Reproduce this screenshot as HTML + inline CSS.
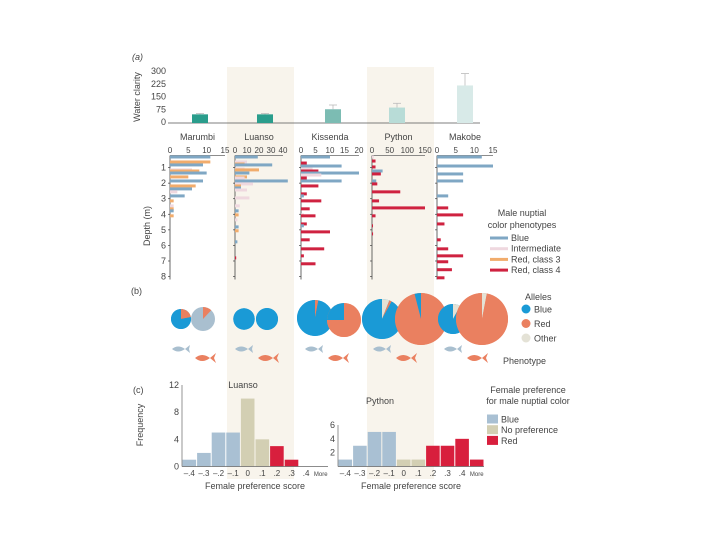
<!DOCTYPE html>
<html><head><meta charset="utf-8"><style>
html,body{margin:0;padding:0;background:#fff}
svg{display:block}
text{font-family:"Liberation Sans",sans-serif;fill:#444}
</style></head><body>
<svg id="fig" width="720" height="540" viewBox="0 0 720 540"></svg>
<script>
// ---- data ----
const sites = ["Marumbi","Luanso","Kissenda","Python","Makobe"];
const clarityValues = [45, 45, 75, 85, 215];
const clarityErr = [50, 50, 100, 110, 285];
const clarityTicks = [0,75,150,225,300];
const depthTicks = [1,2,3,4,5,6,7,8];
const depthMax = [15,40,20,150,15];
const depthAxisTicks = [[0,5,10,15],[0,10,20,30,40],[0,5,10,15,20],[0,50,100,150],[0,5,10,15]];
// [depth (m), count, phenotype]
const marumbiBars = [[0.32,11,"B"],[0.64,11,"O"],[0.83,9,"B"],[1.15,6,"I"],[1.22,8,"O"],[1.35,10,"B"],[1.6,5,"O"],[1.86,9,"B"],[2.18,7,"O"],[2.37,6,"B"],[2.56,2,"I"],[2.82,4,"B"],[3.14,1,"O"],[3.46,1,"I"],[3.65,1,"O"],[3.78,1,"B"],[4.1,1,"O"]];
const luansoBars = [[0.32,19,"B"],[0.64,10,"I"],[0.77,8,"O"],[0.83,31,"B"],[1.09,8,"I"],[1.15,20,"O"],[1.35,12,"B"],[1.6,10,"O"],[1.67,8,"I"],[1.86,44,"B"],[2.05,15,"I"],[2.18,5,"O"],[2.31,5,"B"],[2.44,10,"I"],[2.95,12,"I"],[3.46,4,"I"],[3.78,3,"B"],[4.04,3,"O"],[4.36,2,"I"],[4.81,3,"B"],[5.06,3,"O"],[5.77,2,"B"],[6.8,1,"R"]];
const kissendaBars = [[0.32,10,"B"],[0.71,2,"R"],[0.9,14,"B"],[1.09,4,"I"],[1.22,6,"R"],[1.35,20,"B"],[1.48,7,"I"],[1.67,2,"R"],[1.86,14,"B"],[2.18,6,"R"],[2.69,2,"R"],[2.82,1,"B"],[3.14,7,"R"],[3.65,3,"R"],[4.04,1,"I"],[4.1,5,"R"],[4.62,2,"R"],[4.74,1,"B"],[5.13,10,"R"],[5.64,3,"R"],[6.22,8,"R"],[6.67,1,"R"],[7.18,5,"R"]];
const pythonBars = [[0.32,5,"I"],[0.58,10,"R"],[0.96,10,"R"],[1.22,30,"B"],[1.41,25,"R"],[1.86,12,"B"],[2.05,15,"R"],[2.56,80,"R"],[3.14,20,"R"],[3.59,150,"R"],[4.1,10,"R"],[4.74,2,"R"],[5.26,3,"R"]];
const makobeBars = [[0.32,12,"B"],[0.9,15,"B"],[1.41,7,"B"],[1.86,7,"B"],[2.82,3,"B"],[3.59,3,"R"],[4.04,7,"R"],[4.62,2,"R"],[5.64,1,"R"],[6.22,3,"R"],[6.67,7,"R"],[7.05,3,"R"],[7.56,4,"R"],[8.08,2,"R"]];
// allele fractions [blue, red, other]
const allelePie1 = [[0.78,0.22,0],[1,0,0],[0.97,0.03,0],[0.92,0.02,0.06],[0.92,0,0.08]];
const allelePie2 = [[0,0.12,0],[1,0,0],[0.25,0.75,0],[0.04,0.96,0],[0,0.97,0.03]];
const histBins = ["\u2013.4","\u2013.3","\u2013.2","\u2013.1","0",".1",".2",".3",".4","More"];
const histClass = ["B","B","B","B","N","N","R","R","R","R"];
const luansoHist = [1,2,5,5,10,4,3,1,0,0];
const pythonHist = [1,3,5,5,1,1,3,3,4,1];
const luansoTicks = [0,4,8,12];
const pythonTicks = [2,4,6];

const S = document.getElementById('fig');
const NS = "http://www.w3.org/2000/svg";
function mk(tag, at, parent){const e=document.createElementNS(NS,tag);for(const k in at)e.setAttribute(k,at[k]);(parent||S).appendChild(e);return e;}
function tx(x,y,s,size,anchor,extra){const e=mk('text',Object.assign({x:x,y:y,'font-size':size,'text-anchor':anchor||'start'},extra||{}));e.textContent=s;return e;}
const colX = [170,235,301,372,437];
const colW = [55,48,58,53,56];
const phCol = {B:"#7fa7c4",I:"#efd8df",O:"#f1ac6c",R:"#cf2240"};
const hCol = {B:"#a9c0d3",N:"#d3cfb3",R:"#d81f3d"};

// shading
[[227,67],[367,67]].forEach((p,i)=>{const r=mk('rect',{x:p[0],y:p[1],width:67,height:412,fill:"#f8f4ec"});

});

// ---- (a) water clarity ----
let t=tx(132,60,"(a)",9,'start',{'font-style':'italic'});


const cy0=122, cy300=71;
function cY(v){return cy0-(cy0-cy300)*v/300;}
clarityTicks.forEach(v=>{const e=tx(166,cY(v)+3,String(v),9,'end');

});
t=tx(140,97,"Water clarity",9,'middle',{transform:"rotate(-90 140 97)"});


let ax=mk('line',{x1:168,y1:123,x2:480,y2:123,stroke:"#555","stroke-width":0.8});


const clarCols=["#2a9d8c","#2a9d8c","#7cbcb3","#b8dcd7","#d8eae8"];
const clarCx=[200,265,333,397,465];
sites.forEach((s,i)=>{
 const e=mk('line',{x1:clarCx[i],x2:clarCx[i],y1:cY(clarityErr[i]),y2:cY(clarityValues[i]),stroke:"#bbb","stroke-width":0.8});
 
 
 const c=mk('line',{x1:clarCx[i]-4,x2:clarCx[i]+4,y1:cY(clarityErr[i]),y2:cY(clarityErr[i]),stroke:"#bbb","stroke-width":0.8});
 
 
 const b=mk('rect',{x:clarCx[i]-8,y:cY(clarityValues[i]),width:16,height:cy0-cY(clarityValues[i])+1,fill:clarCols[i]});
 
 
 const l=tx(colX[i]+colW[i]/2,140,s,9,'middle');
 
 
});

// ---- depth profiles ----
function dY(d){return 152+15.57*d;}
depthTicks.forEach(d=>{const e=tx(166,dY(d)+3,String(d),9,'end');

});
t=tx(150,226,"Depth (m)",9,'middle',{transform:"rotate(-90 150 226)"});


const allBars=[marumbiBars,luansoBars,kissendaBars,pythonBars,makobeBars];
allBars.forEach((bars,i)=>{
 const x0=colX[i], w=colW[i], mx=depthMax[i];
 const sx=v=>x0+w*v/mx;
 depthAxisTicks[i].forEach(v=>{const e=tx(sx(v),153,String(v),8,'middle');
 
 });
 const top=mk('line',{x1:x0,x2:x0+w,y1:155.5,y2:155.5,stroke:"#666","stroke-width":0.7});
 
 
 const lft=mk('line',{x1:x0,x2:x0,y1:155.5,y2:dY(8)+3,stroke:"#444","stroke-width":0.8});
 
 
 depthTicks.forEach(d=>{const k=mk('line',{x1:x0-2,x2:x0,y1:dY(d),y2:dY(d),stroke:"#444","stroke-width":0.7});
 
 });
 bars.forEach(b=>{const r=mk('rect',{x:x0,y:dY(b[0])-1.5,width:Math.max(w*b[1]/mx,1),height:3,fill:phCol[b[2]]});
 
 });
});
// legend a
t=tx(522,216,"Male nuptial",9,'middle');


t=tx(522,228,"color phenotypes",9,'middle');


[["Blue","B"],["Intermediate","I"],["Red, class 3","O"],["Red, class 4","R"]].forEach((e,k)=>{
 const y=238+k*10.7;
 const l=mk('rect',{x:490,y:y-1.5,width:18,height:3,fill:phCol[e[1]]});
 
 
 const tt=tx(511,y+3,e[0],9);
 
 
});

// ---- (b) pies ----
t=tx(131,294,"(b)",9);


const pc1=[[181,319,10],[244,319,10.7],[315,318,18],[382,319,20],[453,319,15]];
const pc2=[[203,319,12],[267,319,11],[344,320,17],[421,319,26],[482,319,26]];
const aCol=["#1a9ad6","#ea8060","#e4e2d6"];
function pie(c,fr,base,name){
 let a=0;
 const g=mk('g',{});
 
 
 const bg=mk('circle',{cx:c[0],cy:c[1],r:c[2],fill:base},g);
 // other, red wedges drawn clockwise from 12 o'clock; blue fills rest counter
 const order=[[2,fr[2]],[1,fr[1]],[0,fr[0]]];
 order.forEach(o=>{const f=o[1]; if(f<=0)return;
  if(f>=0.999){mk('circle',{cx:c[0],cy:c[1],r:c[2],fill:aCol[o[0]]},g);a+=f;return;}
  const a0=a*2*Math.PI, a1=(a+f)*2*Math.PI;
  const p=(an)=>[c[0]+c[2]*Math.sin(an),c[1]-c[2]*Math.cos(an)];
  const s=p(a0),e=p(a1);
  mk('path',{d:`M${c[0]},${c[1]}L${s[0]},${s[1]}A${c[2]},${c[2]} 0 ${f>0.5?1:0} 1 ${e[0]},${e[1]}Z`,fill:aCol[o[0]]},g);
  a+=f;});
}
sites.forEach((s,i)=>{
 const f1=allelePie1[i];
 pie(pc1[i],f1,"#1a9ad6",'allele-pie-'+s.toLowerCase()+'-1');
 const f2=allelePie2[i];
 pie(pc2[i],f2,i==0?"#a9bfcf":(f2[1]>0.5?"#ea8060":"#1a9ad6"),'allele-pie-'+s.toLowerCase()+'-2');
 // fish
 const fx=[180,243,313,381,452][i];
 const f=mk('path',{d:`M${fx-8},349 q6,-5 13,0 l5,-4 l-1,4 l1,4 l-5,-4 q-7,5 -13,0z`,fill:"#a9bfcf"});
 
 
 const fx2=fx+25;
 const f3=mk('path',{d:`M${fx2-10},358 q7,-6 15,0 l6,-5 l-2,5 l2,5 l-6,-5 q-8,6 -15,0z`,fill:"#ea8060"});
 
 
});
t=tx(525,300,"Alleles",9);


[["Blue",0],["Red",1],["Other",2]].forEach((e,k)=>{
 const y=309+k*14.5;
 const c=mk('circle',{cx:526,cy:y,r:4.5,fill:aCol[e[1]]});
 
 
 const tt=tx(534,y+3.5,e[0],9);
 
 
});
t=tx(503,364,"Phenotype",9);



// ---- (c) histograms ----
t=tx(133,393,"(c)",9);


t=tx(143,425,"Frequency",9,'middle',{transform:"rotate(-90 143 425)"});


function hist(vals,ticks,x0,yTop,yMax,title,tx0,ty0,nm){
 const y0=466.5, bw=14.6;
 const sy=v=>y0-(y0-yTop)*v/yMax;
 const ya=mk('line',{x1:x0,x2:x0,y1:yTop,y2:y0,stroke:"#666","stroke-width":0.7});
 
 
 ticks.forEach(v=>{const e=tx(x0-3,sy(v)+3,String(v),9,'end');
 
 });
 vals.forEach((v,k)=>{const r=mk('rect',{x:x0+k*bw+0.5,y:sy(v),width:bw-1,height:y0-sy(v),fill:hCol[histClass[k]]});
 
 
 const l=tx(x0+k*bw+bw/2,476,histBins[k],k==9?6:8,'middle');
 
 });
 const xa=mk('line',{x1:x0,x2:x0+bw*10,y1:y0,y2:y0,stroke:"#666","stroke-width":0.7});
 
 
 const xt=tx(x0+bw*5,489,"Female preference score",9,'middle');
 
 
 const ti=tx(tx0,ty0,title,9,'middle');
 
 
}
hist(luansoHist,luansoTicks,182,385,12,"Luanso",243,388,'luanso-hist');
hist(pythonHist,pythonTicks,338,425,6,"Python",380,404,'python-hist');
t=tx(528,393,"Female preference",9,'middle');


t=tx(528,404,"for male nuptial color",9,'middle');


[["Blue","B"],["No preference","N"],["Red","R"]].forEach((e,k)=>{
 const y=419+k*10.7;
 const r=mk('rect',{x:487,y:y-4.5,width:11,height:9,fill:hCol[e[1]]});
 
 
 const tt=tx(501,y+3.5,e[0],9);
 
 
});
</script>
</body></html>
